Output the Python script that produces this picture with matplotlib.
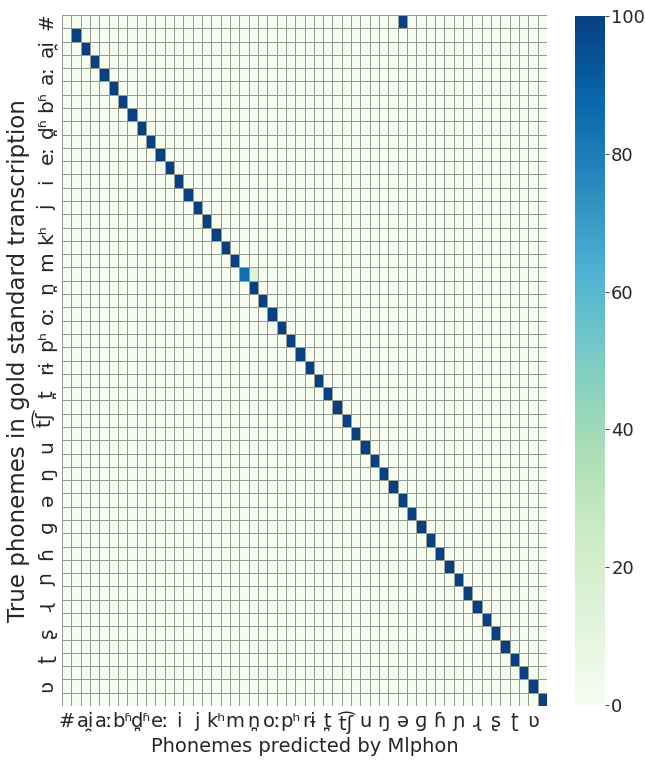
import numpy as np
import matplotlib
matplotlib.use("Agg")
import matplotlib.pyplot as plt

# phoneme inventory (every other one is shown on the axes)
phonemes = ['#', 'a', 'ai̯', 'au̯', 'aː', 'b', 'bʱ', 'd', 'd̪ʱ', 'e',
            'eː', 'ɛ', 'i', 'iː', 'j', 'k', 'kʰ', 'l', 'm', 'n',
            'n̪', 'o', 'oː', 'p', 'pʰ', 'r', 'rɨ', 's', 't̪', 't̪ʰ',
            't͡ʃ', 't͡ʃʰ', 'u', 'uː', 'ŋ', 'ɔ', 'ə', 'ɖ', 'ɡ', 'ɡʱ',
            'ɦ', 'ɪ', 'ɲ', 'ɽ', 'ɻ', 'ɾ', 'ʂ', 'ʃ', 'ʈ', 'ʈʰ',
            'ʋ', 'ʒ']

# percentage of each true phoneme predicted correctly
correct_pct = [0, 100, 100, 100, 100, 100, 100, 100, 100, 100,
               100, 100, 100, 100, 100, 100, 100, 100, 100, 85,
               100, 100, 100, 100, 100, 100, 100, 100, 100, 100,
               100, 100, 100, 100, 100, 100, 100, 100, 100, 100,
               100, 100, 100, 100, 100, 100, 100, 100, 100, 100,
               100, 100]

# off-diagonal confusions: (true, predicted, percent)
confusions = [('#', 'ə', 100),
              ('n', 'n̪', 15)]

n = len(phonemes)
cm = np.diag(np.array(correct_pct, dtype=float))
for true, pred, pct in confusions:
    cm[phonemes.index(true), phonemes.index(pred)] = pct

plt.rcParams['font.family'] = ['DejaVu Sans']
fig = plt.figure(figsize=(6.45, 7.63), dpi=100)
ax = fig.add_axes([62/645, 1 - 706/763, 485/645, 691/763])
cax = fig.add_axes([575/645, 1 - 705/763, 30/645, 689/763])

mesh = ax.pcolormesh(cm, cmap='GnBu', vmin=0, vmax=100,
                     edgecolors='#939b93', linewidth=0.6)
ax.set_xlim(0, n)
ax.set_ylim(n, 0)
for s in ax.spines.values():
    s.set_visible(False)

ticks = np.arange(0, n, 2)
ax.set_xticks(ticks + 0.5)
ax.set_xticklabels([phonemes[i] for i in ticks], fontsize=14)
ax.set_yticks(ticks + 0.5)
ax.set_yticklabels([phonemes[i] for i in ticks], fontsize=14.5, rotation=90, va='center')
ax.tick_params(length=0, pad=4, colors='#262626')
ax.set_xlabel('Phonemes predicted by Mlphon', fontsize=14, color='#262626', labelpad=2)
ax.set_ylabel('True phonemes in gold standard transcription', fontsize=16.5,
              color='#262626', labelpad=3)

cb = fig.colorbar(mesh, cax=cax)
cb.outline.set_visible(False)
cb.set_ticks([0, 20, 40, 60, 80, 100])
cb.ax.tick_params(labelsize=13, length=3, width=0.6, pad=1.5, colors='#262626')

fig.savefig('out.png', dpi=100)
